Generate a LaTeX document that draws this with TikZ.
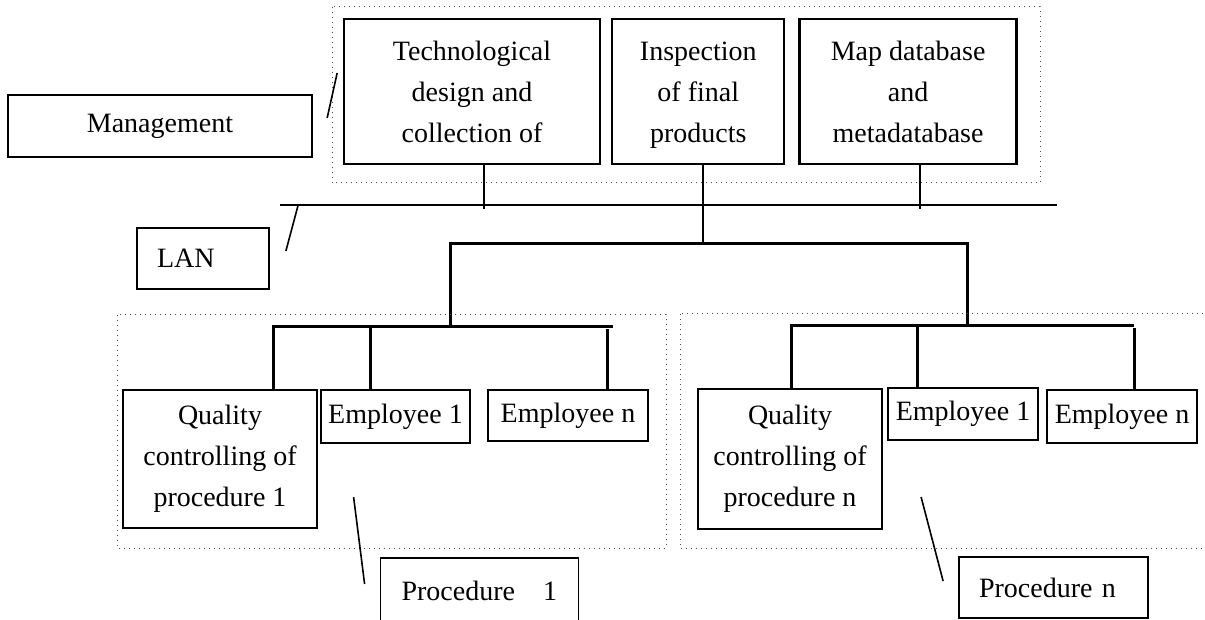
\documentclass[tikz,border=0pt]{standalone}
\usepackage{fontspec}
\setmainfont{Liberation Serif}
\usetikzlibrary{positioning}

\begin{document}
\begin{tikzpicture}[x=0.5pt, y=-0.5pt,
  box/.style={rectangle, draw, line width=1.15pt, align=center, inner sep=0pt, font=\fontsize{14}{20.5}\selectfont},
  top/.style={box, minimum height=72.5pt, text height=51pt, text depth=0pt},
  tag/.style={rectangle, draw, line width=0.9pt, align=left, inner ysep=0pt, font=\fontsize{14}{20.5}\selectfont},
  frame/.style={draw=black!70, dotted, line width=0.5pt},
  wire/.style={line width=0.9pt},
  bus/.style={line width=1.5pt},
  lead/.style={line width=0.8pt}]
        \useasboundingbox (0,0) rectangle (1205,620);
        % management level
        \draw[frame] (332,7) rectangle (1040,183);
        \node[top, minimum width=128pt] (tech) at (472,91.5) {Technological\\design and\\collection of};
        \node[top, minimum width=86pt, right=5pt of tech] (insp) {Inspection\\of final\\products};
        \node[top, minimum width=108.5pt, right=6.5pt of insp] (mapdb) {Map database\\and\\metadatabase};
        \node[box, minimum width=152pt, minimum height=31pt] (mgmt) at (160,126) {Management};
        \draw[lead] (mgmt.east) ++(14,-8) -- ++(10,-45);
        % LAN
        \coordinate (lanW) at (280,205);
        \coordinate (lanE) at (1057,205);
        \draw[wire] (lanW) -- (lanE);
        \draw[wire] (tech.south) ++(12,0) -- ++(0,44);
        \draw[wire] (mapdb.south) ++(11.5,0) -- ++(0,44);
        \draw[wire] (insp.south) ++(5,0) -- ++(0,80);
        \node[tag, text width=46pt, inner xsep=10pt, minimum height=30.5pt] (lan) at (203,258.5) {LAN};
        \draw[lead] (lan.east) ++(16,-7.5) -- ++(12,-45);
        % procedures
        \coordinate (busE) at (967,244);
        \coordinate (hubA) at (450,327);
        \coordinate (hubB) at (967,326);
        \draw[bus] (hubA) |- (busE) -- (hubB);
        \draw[frame] (117,315) rectangle (666,548);
        \draw[frame] (680,314) rectangle (1215,548);
        \node[box, minimum width=97pt, minimum height=69pt] (qcA) at (220,459) {Quality\\controlling of\\procedure 1};
        \node[box, minimum width=74.5pt, minimum height=26.5pt] (emp1A) at (395.5,416.5) {Employee 1};
        \node[box, minimum width=80pt, minimum height=25.5pt] (empnA) at (568,415.5) {Employee n};
        \node[box, minimum width=92pt, minimum height=70pt] (qcB) at (790,459) {Quality\\controlling of\\procedure n};
        \node[box, minimum width=75pt, minimum height=26pt] (emp1B) at (963,414) {Employee 1};
        \node[box, minimum width=75pt, minimum height=26.5pt] (empnB) at (1122,416.5) {Employee n};
        \coordinate (endA) at (613,327);
        \coordinate (endB) at (1134,326);
        \draw[bus] (qcA.north) ++(53,0) |- (endA);
        \draw[bus] (emp1A.north) ++(-25.5,0) -- ++(0,-63);
        \draw[bus] (empnA.north) ++(39,0) -- ++(0,-60);
        \draw[bus] (qcB.north) ++(1,0) |- (endB);
        \draw[bus] (emp1B.north) ++(-46,0) -- ++(0,-62);
        \draw[bus] (empnB.north) ++(12,0) -- ++(0,-61);
        \node[tag, text width=78pt, inner xsep=10.5pt, minimum height=33pt] (procA) at (479.5,591) {Procedure\quad1};
        \node[tag, text width=74.5pt, inner xsep=10pt, minimum height=30.5pt] (procB) at (1053.5,587.5) {Procedure n};
        \draw[lead] (procA.west) ++(-15,-7) -- ++(-11,-87);
        \draw[lead] (procB.west) ++(-15,-6.5) -- ++(-22,-84);
      \end{tikzpicture}
\end{document}
